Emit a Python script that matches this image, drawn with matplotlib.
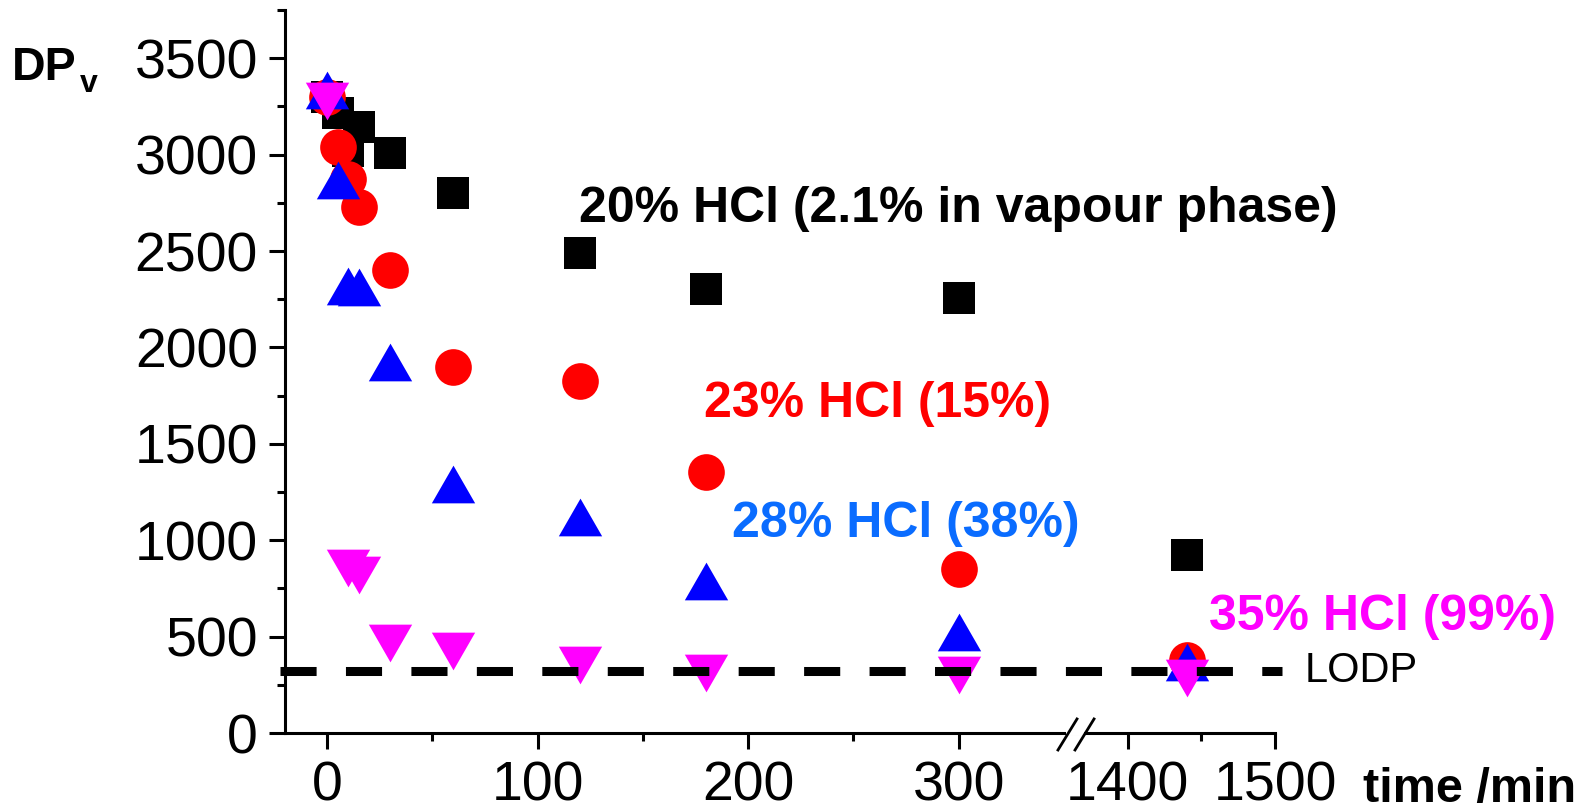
import numpy as np
import matplotlib
matplotlib.use("Agg")
import matplotlib.pyplot as plt
from matplotlib.ticker import FixedLocator, MultipleLocator, FormatStrFormatter

plt.rcParams['font.family'] = ['Liberation Sans', 'DejaVu Sans']

# ---------------- data ----------------
t_20 = [0, 5, 10, 15, 30, 60, 120, 180, 300, 1440]
dp_20 = [3300, 3215, 3020, 3145, 3010, 2800, 2490, 2305, 2255, 925]

t_23 = [0, 5, 10, 15, 30, 60, 120, 180, 300, 1440]
dp_23 = [3300, 3040, 2875, 2728, 2400, 1900, 1828, 1356, 849, 380]

t_28 = [0, 5, 10, 15, 30, 60, 120, 180, 300, 1440]
dp_28 = [3333, 2868, 2321, 2314, 1925, 1294, 1121, 789, 522, 367]

t_35 = [0, 10, 15, 30, 60, 120, 180, 300, 1440]
dp_35 = [3280, 856, 822, 467, 425, 355, 313, 303, 285]

LODP = 320

x_major = [0, 100, 200, 300, 1400, 1500]
x_minor = [50, 150, 250, 1450]

labels = ["20% HCl (2.1% in vapour phase)", "23% HCl (15%)",
          "28% HCl (38%)", "35% HCl (99%)"]

# ---------------- figure ----------------
W, H = 1588, 809
fig = plt.figure(figsize=(W / 100, H / 100), dpi=100)


def fx(x):
    return x / W


def fy(y):
    return 1 - y / H


ax = fig.add_axes([fx(285), fy(733), (1275 - 285) / W, (733 - 10) / H])

# broken x axis via piecewise scale
B_LO, B_HI, K = 355.0, 1364.0, 0.70


def fwd(x):
    x = np.asarray(x, dtype=float)
    return np.where(x <= B_LO, x,
                    np.where(x >= B_HI, B_LO + (x - B_HI) * K, B_LO))


def inv(u):
    u = np.asarray(u, dtype=float)
    return np.where(u <= B_LO, u, B_HI + (u - B_LO) / K)


ax.set_xscale('function', functions=(fwd, inv))
ax.set_xlim(-20, 1500)
ax.set_ylim(0, 3750)

# markers
def tri(up=True, h=0.87):
    if up:
        return [(-1, -h), (1, -h), (0, h), (-1, -h)]
    return [(-1, h), (1, h), (0, -h), (-1, h)]


ax.plot(t_20, dp_20, ls='none', marker='s', ms=23.4, color='#000000',
        mew=0, clip_on=False, zorder=3)
ax.plot(t_23, dp_23, ls='none', marker='o', ms=26.4, color='#ff0000',
        mew=0, clip_on=False, zorder=3)
ax.plot(t_28, dp_28, ls='none', marker=tri(True), ms=31.2, color='#0000ff',
        mew=0, clip_on=False, zorder=3)
ax.plot(t_35, dp_35, ls='none', marker=tri(False), ms=31.2, color='#ff00ff',
        mew=0, clip_on=False, zorder=3)

# LODP dashed line
ax.axhline(LODP, xmin=-0.005, xmax=1.007, color='black', lw=6.5,
           dashes=(4.0, 3.25), clip_on=False, zorder=4)

# axes styling
for s in ['top', 'right']:
    ax.spines[s].set_visible(False)
for s in ['left', 'bottom']:
    ax.spines[s].set_linewidth(2.2)

ax.xaxis.set_major_locator(FixedLocator(x_major))
ax.xaxis.set_minor_locator(FixedLocator(x_minor))
ax.xaxis.set_major_formatter(FormatStrFormatter('%d'))
ax.yaxis.set_major_locator(MultipleLocator(500))
ax.yaxis.set_minor_locator(MultipleLocator(250))
ax.yaxis.set_major_formatter(FormatStrFormatter('%d'))

ax.tick_params(which='major', direction='out', length=11.5, width=2.2,
               labelsize=40, pad=8)
ax.tick_params(which='minor', direction='out', length=6, width=2.2)

# axis break marks
ax.plot([0.789, 0.807], [0, 0], transform=ax.transAxes, color='white',
        lw=4, clip_on=False, zorder=5, solid_capstyle='butt')
ax.plot([0.7808, 0.8000], [-0.0235, 0.0194], transform=ax.transAxes,
        color='black', lw=2, clip_on=False, zorder=6)
ax.plot([0.7980, 0.8172], [-0.0235, 0.0194], transform=ax.transAxes,
        color='black', lw=2, clip_on=False, zorder=6)

# annotations
LBL = 36
fig.text(fx(579), fy(221.7), labels[0], fontsize=LBL, fontweight='bold',
         color='black', va='baseline', ha='left')
fig.text(fx(703.5), fy(416.7), labels[1], fontsize=LBL, fontweight='bold',
         color='#ff0000', va='baseline', ha='left')
fig.text(fx(731.8), fy(536.7), labels[2], fontsize=LBL, fontweight='bold',
         color='#0a6cff', va='baseline', ha='left')
fig.text(fx(1209.2), fy(630), labels[3], fontsize=LBL, fontweight='bold',
         color='#ff00ff', va='baseline', ha='left')
fig.text(fx(1305), fy(682.3), "LODP", fontsize=30, color='black',
         va='baseline', ha='left')

# axis titles
fig.text(fx(12), fy(80), "DP", fontsize=33.5, fontweight='bold',
         va='baseline', ha='left')
fig.text(fx(80), fy(91.7), "v", fontsize=23, fontweight='bold',
         va='baseline', ha='left')
fig.text(fx(1363), fy(802), "time /min", fontsize=35, fontweight='bold',
         va='baseline', ha='left')

fig.savefig("out.png", dpi=100)
